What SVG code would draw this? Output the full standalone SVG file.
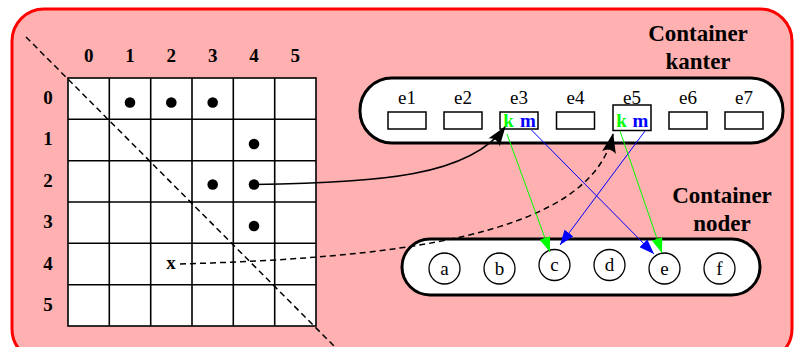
<svg xmlns="http://www.w3.org/2000/svg" width="795" height="347" viewBox="0 0 795 347">
<style>
.lbl{font-family:"Liberation Serif",serif;font-weight:bold;font-size:19px;text-anchor:middle;fill:#000}
.big{font-family:"Liberation Serif",serif;font-weight:bold;font-size:23px;text-anchor:middle;fill:#000}
.nm{font-family:"Liberation Serif",serif;font-size:19px;text-anchor:middle;fill:#000}
.cell{fill:#fff;stroke:#000;stroke-width:1.6}
.slot{fill:#fff;stroke:#000;stroke-width:1.5}
.node{fill:#fff;stroke:#000;stroke-width:1.3}
.dash{fill:none;stroke:#000;stroke-width:1.5;stroke-dasharray:6 4}
</style>
<defs>
<marker id="blk" viewBox="0 0 20 14" refX="19" refY="7" markerWidth="20" markerHeight="14" markerUnits="userSpaceOnUse" orient="auto">
<path d="M0,0 L20,7 L0,14 Q6,7 0,0 Z" fill="#000"/>
</marker>
<marker id="grn" viewBox="0 0 15 11" refX="15" refY="5.5" markerWidth="15" markerHeight="11" markerUnits="userSpaceOnUse" orient="auto">
<path d="M0,0 L15,5.5 L0,11 Z" fill="#00ff00"/>
</marker>
<marker id="blu" viewBox="0 0 15 11" refX="15" refY="5.5" markerWidth="15" markerHeight="11" markerUnits="userSpaceOnUse" orient="auto">
<path d="M0,0 L15,5.5 L0,11 Z" fill="#0000ff"/>
</marker>
</defs>
<g id="background">
<rect x="12" y="9" width="780" height="352" rx="32" fill="#ffb0b0" stroke="#ff0000" stroke-width="3"/>
</g>
<g id="matrix">
<g>
<rect class="cell" x="68" y="78" width="248" height="248"/>
<path d="M109.3,78V326M150.7,78V326M192,78V326M233.3,78V326M274.7,78V326M68,119.3H316M68,160.7H316M68,202H316M68,243.3H316M68,284.7H316" stroke="#000" stroke-width="1.6" fill="none"/>
</g>
<g id="col-labels">
<text class="lbl" x="88.7" y="62">0</text>
<text class="lbl" x="130" y="62">1</text>
<text class="lbl" x="171.3" y="62">2</text>
<text class="lbl" x="212.7" y="62">3</text>
<text class="lbl" x="254" y="62">4</text>
<text class="lbl" x="295.3" y="62">5</text>
</g>
<g id="row-labels">
<text class="lbl" x="48" y="104">0</text>
<text class="lbl" x="48" y="145">1</text>
<text class="lbl" x="48" y="187">2</text>
<text class="lbl" x="48" y="228">3</text>
<text class="lbl" x="48" y="270">4</text>
<text class="lbl" x="48" y="311">5</text>
</g>
<g id="dots" fill="#000">
<circle cx="130" cy="102.5" r="5.3"/>
<circle cx="171.3" cy="102.5" r="5.3"/>
<circle cx="212.7" cy="102.5" r="5.3"/>
<circle cx="254" cy="144" r="5.3"/>
<circle cx="212.7" cy="184.5" r="5.3"/>
<circle cx="254" cy="184.5" r="5.3"/>
<circle cx="254" cy="226" r="5.3"/>
</g>
<text class="lbl" x="171" y="269">x</text>
<path class="dash" d="M26,37 L336,348"/>
</g>
<g id="kanter">
<rect x="360" y="78" width="423" height="65" rx="32" fill="#fff" stroke="#000" stroke-width="3"/>
<text class="nm" x="407" y="104">e1</text>
<text class="nm" x="463" y="104">e2</text>
<text class="nm" x="519" y="104">e3</text>
<text class="nm" x="575.5" y="104">e4</text>
<text class="nm" x="632" y="104">e5</text>
<text class="nm" x="688" y="104">e6</text>
<text class="nm" x="744" y="104">e7</text>
<rect class="slot" x="388" y="112" width="38" height="17"/>
<rect class="slot" x="444" y="112" width="38" height="17"/>
<rect class="slot" x="500" y="112" width="38" height="17"/>
<rect class="slot" x="556.5" y="112" width="38" height="17"/>
<rect class="slot" x="613" y="105" width="38" height="25.5"/>
<rect class="slot" x="669" y="112" width="38" height="17"/>
<rect class="slot" x="725" y="112" width="38" height="17"/>
<text class="lbl" x="508.5" y="126.5" style="fill:#00ff00">k</text>
<text class="lbl" x="528" y="126.5" style="fill:#0000ff">m</text>
<text class="lbl" x="621.5" y="126.5" style="fill:#00ff00">k</text>
<text class="lbl" x="640.5" y="126.5" style="fill:#0000ff">m</text>
<text class="big" x="698" y="41">Container</text>
<text class="big" x="698" y="69">kanter</text>
</g>
<g id="noder">
<rect x="402" y="239" width="358" height="56" rx="28" fill="#fff" stroke="#000" stroke-width="3"/>
<circle class="node" cx="444.5" cy="268.5" r="15.5"/>
<circle class="node" cx="499.5" cy="268.5" r="15.5"/>
<circle class="node" cx="554.5" cy="265" r="15.5"/>
<circle class="node" cx="609.5" cy="265" r="15.5"/>
<circle class="node" cx="664.5" cy="268.5" r="15.5"/>
<circle class="node" cx="719.5" cy="268.5" r="15.5"/>
<text class="nm" x="444.5" y="275">a</text>
<text class="nm" x="499.5" y="275">b</text>
<text class="nm" x="554.5" y="271">c</text>
<text class="nm" x="609.5" y="271">d</text>
<text class="nm" x="664.5" y="275">e</text>
<text class="nm" x="719.5" y="275">f</text>
<text class="big" x="722" y="203">Container</text>
<text class="big" x="722" y="231">noder</text>
</g>
<g id="connectors">
<path d="M254,184.5 C380,183 470,176 505,127" fill="none" stroke="#000" stroke-width="1.5" marker-end="url(#blk)"/>
<path class="dash" d="M180,264 C380,258 590,240 613,134" marker-end="url(#blk)"/>
<path d="M507,134 L550,252" stroke="#00ff00" stroke-width="1" marker-end="url(#grn)"/>
<path d="M531.5,130 L654,254" stroke="#0000ff" stroke-width="1" marker-end="url(#blu)"/>
<path d="M645,131 L560,245" stroke="#0000ff" stroke-width="1" marker-end="url(#blu)"/>
<path d="M620,131 L662,253" stroke="#00ff00" stroke-width="1" marker-end="url(#grn)"/>
</g>
</svg>
